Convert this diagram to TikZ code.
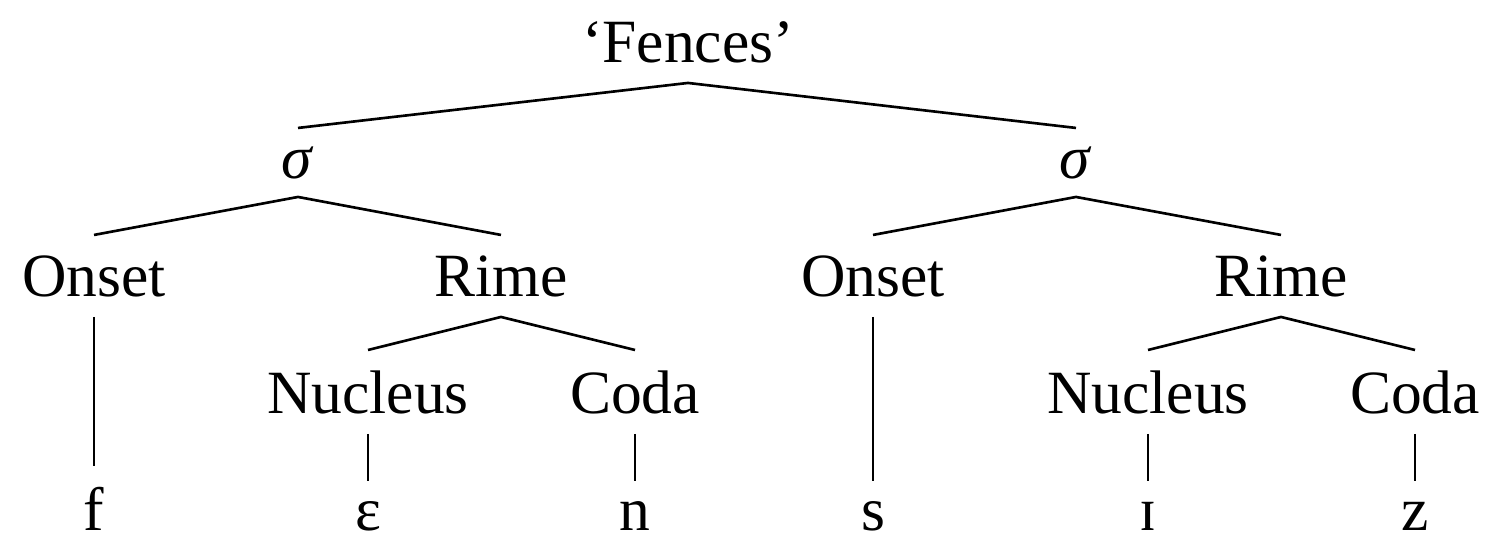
\documentclass[tikz,border=0pt]{standalone}
\usepackage{fontspec}
\setmainfont{Liberation Serif}
\usepackage{tikz}
\usetikzlibrary{positioning}

\tikzset{
  lbl/.style={anchor=base, inner xsep=2pt, inner ysep=0.4cm, font=\fontsize{35}{42}\selectfont},
  branch/.style={line width=1.5pt}
}

\begin{document}
\begin{tikzpicture}[x=0.02cm, y=-0.02cm]
            \useasboundingbox (0,0) rectangle (1500,551);

            % Word
            \node[lbl] (fences) at (688,62) {‘Fences’};

            % Syllables
            \node[lbl, inner ysep=0.36cm] (sigL) at (298,178) {\textit{σ}};
            \node[lbl, inner ysep=0.36cm] (sigR) at (1076,178) {\textit{σ}};

            % Onsets and rimes
            \node[lbl] (onsetL) at (94,296) {Onset};
            \node[lbl] (rimeL) at (501,296) {Rime};
            \node[lbl] (onsetR) at (873,296) {Onset};
            \node[lbl] (rimeR) at (1281,296) {Rime};

            % Nuclei and codas
            \node[lbl] (nucL) at (368,413) {Nucleus};
            \node[lbl] (codaL) at (635,413) {Coda};
            \node[lbl] (nucR) at (1148,413) {Nucleus};
            \node[lbl] (codaR) at (1415,413) {Coda};

            % Segments
            \node[lbl] (segF) at (94,530) {f};
            \node[lbl] (segE) at (368,530) {ɛ};
            \node[lbl] (segN) at (635,530) {n};
            \node[lbl] (segS) at (873,530) {s};
            \node[lbl] (segI) at (1148,530) {ɪ};
            \node[lbl] (segZ) at (1415,530) {z};

            % Branches
            \draw[branch] (sigL.north) -- (fences.south) -- (sigR.north);
            \draw[branch] (onsetL.north) -- (sigL.south) -- (rimeL.north);
            \draw[branch] (onsetR.north) -- (sigR.south) -- (rimeR.north);
            \draw[branch] (nucL.north) -- (rimeL.south) -- (codaL.north);
            \draw[branch] (nucR.north) -- (rimeR.south) -- (codaR.north);

            \draw[branch] (onsetL.south) -- (segF.north);
            \draw[branch] (onsetR.south) -- (segS.north);
            \draw[branch] (nucL.south) -- (segE.north);
            \draw[branch] (codaL.south) -- (segN.north);
            \draw[branch] (nucR.south) -- (segI.north);
            \draw[branch] (codaR.south) -- (segZ.north);
        \end{tikzpicture}
\end{document}
